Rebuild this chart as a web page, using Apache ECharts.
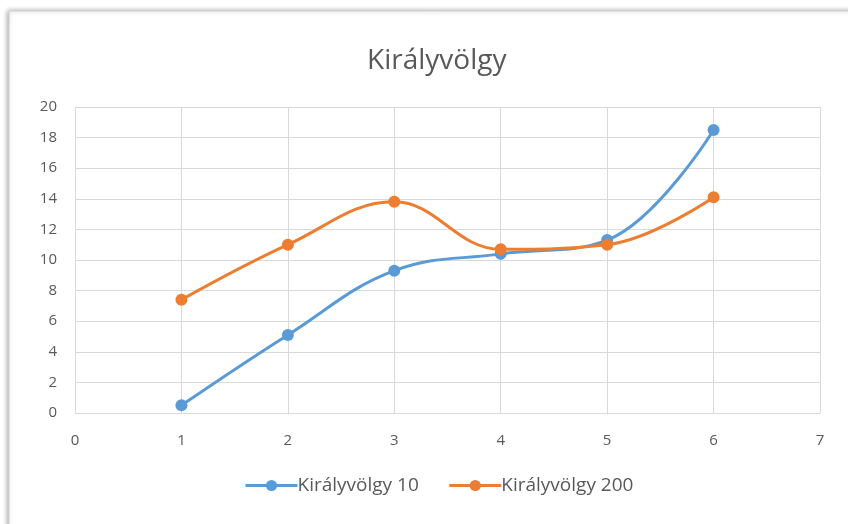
<!DOCTYPE html>
<html>
<head>
<meta charset="utf-8">
<title>Királyvölgy</title>
<script src="https://cdn.jsdelivr.net/npm/echarts@6/dist/echarts.min.js"></script>
<style>
  body { margin: 0; padding: 0; background: #fff; }
  #main { width: 848px; height: 524px; }
</style>
</head>
<body>
<div id="main"></div>
<script>
// x értékek és a két mérési sor
const xValues = [1, 2, 3, 4, 5, 6];
const seriesNames = ['Királyvölgy 10', 'Királyvölgy 200'];
const values10 = [0.5, 5.1, 9.3, 10.4, 11.3, 18.5];
const values200 = [7.4, 11.0, 13.8, 10.7, 11.0, 14.1];

const pairs = (ys) => xValues.map((x, i) => [x, ys[i]]);

const textColor = '#595959';
const gridColor = '#d9d9d9';
const font = '"Open Sans", "Noto Sans", sans-serif';

const chart = echarts.init(document.getElementById('main'));
chart.setOption({
  animation: false,
  color: ['#5B9BD5', '#ED7D31'],
  graphic: [{
    type: 'rect',
    z: -10,
    shape: {x: 9, y: 11, width: 880, height: 560},
    style: {
      fill: '#fff',
      stroke: '#d0d0d0',
      lineWidth: 1,
      shadowBlur: 5,
      shadowColor: 'rgba(0,0,0,0.35)',
      shadowOffsetX: -1,
      shadowOffsetY: 0
    }
  }],
  title: {
    text: 'Királyvölgy',
    left: 367,
    top: 47,
    padding: 0,
    textStyle: {color: textColor, fontSize: 28, fontWeight: 'normal', fontFamily: font}
  },
  grid: {left: 75, right: 28, top: 107, bottom: 111},
  xAxis: {
    type: 'value',
    min: 0,
    max: 7,
    interval: 1,
    axisLine: {show: true, onZero: false, lineStyle: {color: gridColor}},
    axisTick: {show: false},
    axisLabel: {color: textColor, fontSize: 15, margin: 20, fontFamily: font},
    splitLine: {show: true, lineStyle: {color: gridColor}}
  },
  yAxis: {
    type: 'value',
    min: 0,
    max: 20,
    interval: 2,
    axisLine: {show: false},
    axisTick: {show: false},
    axisLabel: {color: textColor, fontSize: 15, margin: 18, fontFamily: font},
    splitLine: {show: true, lineStyle: {color: gridColor}}
  },
  legend: {
    bottom: 29,
    left: 244,
    padding: 0,
    itemWidth: 52,
    itemHeight: 14,
    itemGap: 29,
    lineStyle: {width: 3},
    textStyle: {color: textColor, fontSize: 19, fontFamily: font, padding: [0, 0, 0, -5]}
  },
  series: [
    {
      name: seriesNames[0],
      type: 'line',
      smooth: 0.4,
      symbol: 'circle',
      symbolSize: 12,
      lineStyle: {width: 3},
      data: pairs(values10)
    },
    {
      name: seriesNames[1],
      type: 'line',
      smooth: 0.4,
      symbol: 'circle',
      symbolSize: 12,
      lineStyle: {width: 3},
      data: pairs(values200)
    }
  ]
});
</script>
</body>
</html>
